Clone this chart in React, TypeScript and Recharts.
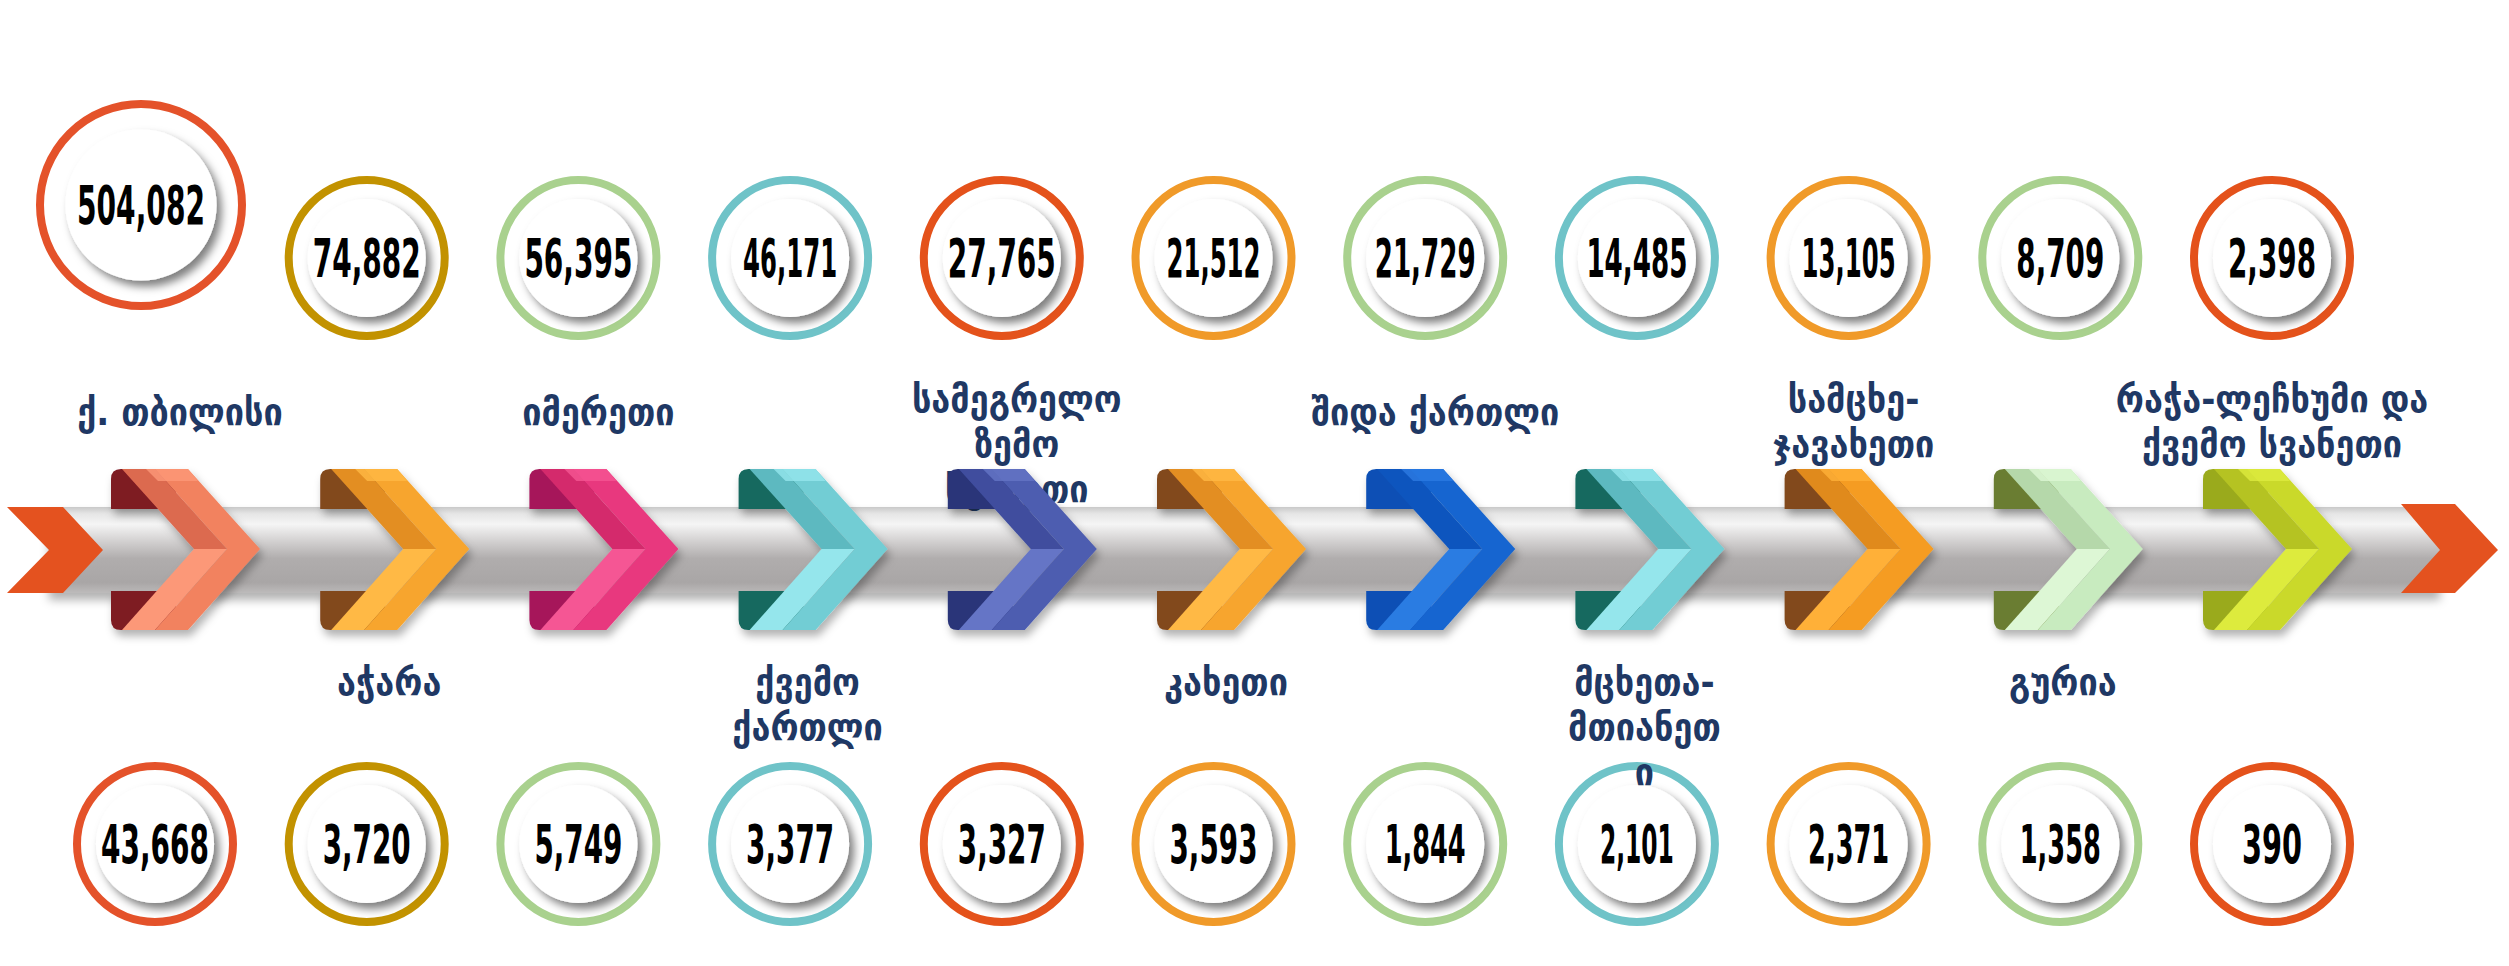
import React from 'react';
import { ComposedChart, XAxis, YAxis, Scatter, ReferenceArea } from 'recharts';

// ---------- data ----------
const regions = [
  'ქ. თბილისი',
  'აჭარა',
  'იმერეთი',
  'ქვემო ქართლი',
  'სამეგრელო ზემო სვანეთი',
  'კახეთი',
  'შიდა ქართლი',
  'მცხეთა-მთიანეთი',
  'სამცხე-ჯავახეთი',
  'გურია',
  'რაჭა-ლეჩხუმი და ქვემო სვანეთი',
];
const labelLines = [
  ['ქ. თბილისი'],
  ['აჭარა'],
  ['იმერეთი'],
  ['ქვემო', 'ქართლი'],
  ['სამეგრელო', 'ზემო', 'სვანეთი'],
  ['კახეთი'],
  ['შიდა ქართლი'],
  ['მცხეთა-', 'მთიანეთ', 'ი'],
  ['სამცხე-', 'ჯავახეთი'],
  ['გურია'],
  ['რაჭა-ლეჩხუმი და', 'ქვემო სვანეთი'],
];
const topValues = [504082, 74882, 56395, 46171, 27765, 21512, 21729, 14485, 13105, 8709, 2398];
const bottomValues = [43668, 3720, 5749, 3377, 3327, 3593, 1844, 2101, 2371, 1358, 390];

// ---------- layout / style ----------
const W = 2509;
const H = 966;
const ROW_TOP = 258;
const ROW_CHEV = 549;
const ROW_BOTTOM = 844;
const BAR_TOP = 507;
const BAR_BOTTOM = 593;

const RING = ['#E4522A', '#C29200', '#A9D18E', '#6FC3C8', '#E4521B', '#F09A29', '#A9D18E', '#6FC3C8', '#F09A29', '#A9D18E', '#E4521B'];

type Pal = { back: string; shade: string; main: string; light: string };
const AMBER: Pal = { back: '#82491F', shade: '#E38E22', main: '#F7A52E', light: '#FFB944' };
const TEAL: Pal = { back: '#13695E', shade: '#5DB9C0', main: '#72CDD4', light: '#95E6EC' };
const CHEV: Pal[] = [
  { back: '#7E1A22', shade: '#DC6A50', main: '#F2825F', light: '#FC9878' },
  AMBER,
  { back: '#A6185A', shade: '#D42A6C', main: '#E8387E', light: '#F55694' },
  TEAL,
  { back: '#2A3479', shade: '#3F4E9E', main: '#4D5DB0', light: '#6575C6' },
  AMBER,
  { back: '#0B50B5', shade: '#0D55BE', main: '#1565D0', light: '#2C7BE2' },
  TEAL,
  { back: '#82491F', shade: '#E08A1C', main: '#F59C22', light: '#FFB038' },
  { back: '#6A7D30', shade: '#B5D8AA', main: '#C8EBBF', light: '#DDF7D5' },
  { back: '#9AAA1E', shade: '#B5C322', main: '#CAD92C', light: '#DDEB3E' },
];

const NUM_FONT = "'DejaVu Sans Condensed', 'DejaVu Sans', sans-serif";
const LABEL_FONT = "'DejaVu Sans Condensed', 'DejaVu Sans', sans-serif";
const LABEL_COLOR = '#1F3864';

const data = regions.map((region, i) => ({
  region,
  idx: i,
  lines: labelLines[i],
  topValue: topValues[i],
  bottomValue: bottomValues[i],
  topRow: ROW_TOP,
  chevRow: ROW_CHEV,
  bottomRow: ROW_BOTTOM,
}));

const fmt = (v: number) => v.toLocaleString('en-US');
const numWidth = (s: string) =>
  s.split('').reduce((a, c) => a + (c === ',' ? 8 : c === '1' ? 13 : 20), 0);

// ---------- shapes ----------
function ValueCircle({ cx, cy, value, color }: { cx: number; cy: number; value: number; color: string }) {
  const big = value > 100000;
  const R = big ? 105 : 82;
  const yc = big ? cy - 53 : cy;
  const x = big ? cx - 14 : cx;
  const txt = fmt(value);
  return (
    <g>
      <circle cx={x} cy={yc} r={R - 4} fill="none" stroke={color} strokeWidth={8} />
      <circle cx={x} cy={yc} r={R * 0.72} fill="#ffffff" filter="url(#diskShadow)" />
      <text
        x={x}
        y={yc + 19}
        textAnchor="middle"
        fontFamily={NUM_FONT}
        fontWeight={700}
        fontSize={53}
        fill="#000"
        textLength={numWidth(txt)}
        lengthAdjust="spacingAndGlyphs"
      >
        {txt}
      </text>
    </g>
  );
}

function ChevronMark({ cx, cy, payload }: any) {
  const i: number = payload.idx;
  const pal = CHEV[i];
  const up = i % 2 === 0;
  const lines: string[] = payload.lines;
  const firstCenter = up ? cy - (lines.length === 1 ? 136 : 149) : cy + 134;
  const top = cy - 80;
  const bot = cy + 81;
  const C = cx;
  const pts = (a: number[][]) => a.map((p) => p.join(',')).join(' ');
  const r = 10;
  const backTop = `M${C - 10},${top} L${C - 75 + r},${top} Q${C - 75},${top} ${C - 75},${top + r} L${C - 75},${BAR_TOP + 2} L${C - 10},${BAR_TOP + 2} Z`;
  const backBot = `M${C - 10},${BAR_BOTTOM - 2} L${C - 75},${BAR_BOTTOM - 2} L${C - 75},${bot - r} Q${C - 75},${bot} ${C - 75 + r},${bot} L${C - 10},${bot} Z`;
  return (
    <g>
      {lines.map((ln, k) => (
        <text
          key={k}
          x={cx - 6}
          y={firstCenter + k * 45 + 12}
          textAnchor="middle"
          fontFamily={LABEL_FONT}
          fontWeight={700}
          fontSize={38}
          fill={LABEL_COLOR}
        >
          {ln}
        </text>
      ))}
      <g filter="url(#chevShadow)">
        <path d={backTop} fill={pal.back} />
        <path d={backBot} fill={pal.back} />
        <polygon points={pts([[C - 64, top], [C - 31, top], [C + 41, cy], [C + 8, cy]])} fill={pal.shade} />
        <polygon points={pts([[C - 31, top], [C + 2, top], [C + 74, cy], [C + 41, cy]])} fill={pal.main} />
        <polygon points={pts([[C - 40, top], [C + 2, top], [C + 12, top + 12], [C - 28, top + 12]])} fill={pal.light} opacity={0.8} />
        <polygon points={pts([[C + 8, cy], [C + 41, cy], [C - 31, bot], [C - 64, bot]])} fill={pal.light} />
        <polygon points={pts([[C + 41, cy], [C + 74, cy], [C + 2, bot], [C - 31, bot]])} fill={pal.main} />
      </g>
    </g>
  );
}

function BarShape(p: any) {
  const { x, y, width, height } = p;
  const mid = y + height / 2;
  const pts = (a: number[][]) => a.map((q) => q.join(',')).join(' ');
  const X = x + width;
  return (
    <g>
      <rect x={x} y={y} width={width} height={height} fill="url(#barGrad)" filter="url(#barShadow)" />
      <polygon
        points={pts([[x - 42, y], [x + 14, y], [x + 54, mid], [x + 14, y + height], [x - 42, y + height], [x, mid]])}
        fill="#E4521F"
      />
      <polygon
        points={pts([[X - 39, y - 3], [X + 15, y - 3], [X + 58, mid], [X + 15, y + height], [X - 39, y + height], [X, mid]])}
        fill="#E4521F"
      />
    </g>
  );
}

export default function App() {
  return (
    <div style={{ width: W, height: H, background: '#ffffff' }}>
      <style>{'body{margin:0;}'}</style>
      <ComposedChart width={W} height={H} data={data} margin={{ top: 0, right: 69, bottom: 0, left: 49 }}>
        <defs>
          <linearGradient id="barGrad" x1="0" y1="0" x2="0" y2="1">
            <stop offset="0%" stopColor="#c9c9c9" />
            <stop offset="8%" stopColor="#e6e6e6" />
            <stop offset="20%" stopColor="#f5f5f5" />
            <stop offset="40%" stopColor="#d2d0d0" />
            <stop offset="60%" stopColor="#b0adad" />
            <stop offset="88%" stopColor="#a9a6a6" />
            <stop offset="100%" stopColor="#bdbbbb" />
          </linearGradient>
          <filter id="barShadow" x="-5%" y="-30%" width="110%" height="180%">
            <feDropShadow dx="0" dy="7" stdDeviation="5" floodColor="#000" floodOpacity="0.3" />
          </filter>
          <filter id="chevShadow" x="-30%" y="-20%" width="160%" height="150%">
            <feDropShadow dx="3" dy="6" stdDeviation="4" floodColor="#000" floodOpacity="0.3" />
          </filter>
          <filter id="diskShadow" x="-30%" y="-30%" width="170%" height="170%">
            <feDropShadow dx="5" dy="6" stdDeviation="4" floodColor="#000" floodOpacity="0.5" />
          </filter>
        </defs>
        <XAxis xAxisId="bar" dataKey="region" type="category" hide padding={{ left: 0, right: 0 }} />
        <XAxis xAxisId="circ" dataKey="region" type="category" hide padding={{ left: 106, right: 168 }} />
        <XAxis xAxisId="chev" dataKey="region" type="category" hide padding={{ left: 137, right: 162 }} />
        <YAxis type="number" hide domain={[0, H]} reversed allowDataOverflow />
        <ReferenceArea xAxisId="bar" y1={BAR_TOP} y2={BAR_BOTTOM} shape={(p: any) => <BarShape {...p} />} ifOverflow="visible" />
        <Scatter
          xAxisId="circ"
          dataKey="topRow"
          isAnimationActive={false}
          shape={(p: any) => <ValueCircle cx={p.cx} cy={p.cy} value={p.payload.topValue} color={RING[p.payload.idx]} />}
        />
        <Scatter
          xAxisId="circ"
          dataKey="bottomRow"
          isAnimationActive={false}
          shape={(p: any) => <ValueCircle cx={p.cx} cy={p.cy} value={p.payload.bottomValue} color={RING[p.payload.idx]} />}
        />
        <Scatter
          xAxisId="chev"
          dataKey="chevRow"
          isAnimationActive={false}
          shape={(p: any) => <ChevronMark cx={p.cx} cy={p.cy} payload={p.payload} />}
        />
      </ComposedChart>
    </div>
  );
}
